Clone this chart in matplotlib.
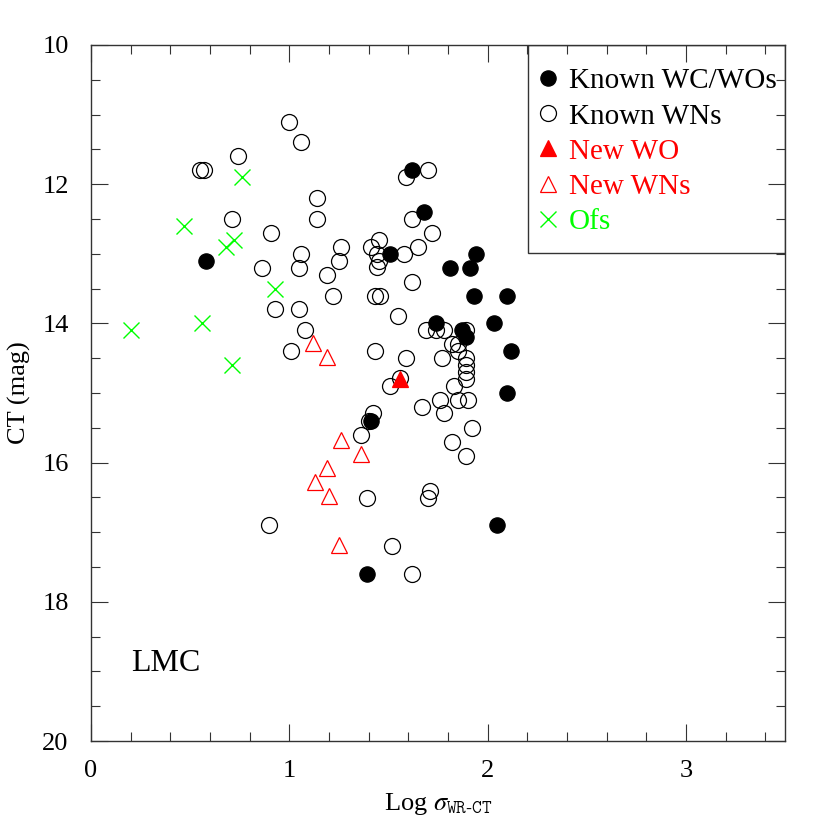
import matplotlib
matplotlib.use("Agg")
import matplotlib.pyplot as plt
import matplotlib.patches as patches
from matplotlib.ticker import MultipleLocator

plt.rcParams['font.family'] = ['Liberation Serif', 'DejaVu Serif']
plt.rcParams['mathtext.fontset'] = 'stix'

# Known WC/WO stars (filled black circles)
wc_x = [0.58, 1.62, 1.68, 1.51, 1.94, 1.81, 1.91, 1.93, 2.10, 1.74,
        2.03, 1.87, 1.89, 2.12, 2.10, 1.41, 2.05, 1.39]
wc_y = [13.10, 11.80, 12.40, 13.00, 13.00, 13.20, 13.20, 13.61, 13.61, 13.99,
        13.99, 14.09, 14.20, 14.40, 15.00, 15.40, 16.90, 17.60]

# Known WN stars (open black circles)
wn_x = [1.00, 1.06, 0.74, 0.55, 0.57, 1.59, 1.70, 1.62, 1.14, 1.14,
        0.71, 1.72, 1.65, 1.58, 0.91, 1.26, 1.25, 1.41, 1.45, 1.44,
        1.45, 1.44, 1.06, 0.86, 1.05, 1.19, 1.62, 1.22, 1.43, 1.46,
        0.93, 1.05, 1.55, 1.08, 1.69, 1.74, 1.78, 1.89, 1.82, 1.85,
        1.85, 1.43, 1.01, 1.59, 1.77, 1.89, 1.89, 1.89, 1.89, 1.56,
        1.51, 1.83, 1.76, 1.85, 1.90, 1.67, 1.78, 1.42, 1.40, 1.36,
        1.92, 1.82, 1.89, 1.71, 1.70, 1.39, 0.90, 1.52, 1.62]
wn_y = [11.11, 11.39, 11.59, 11.80, 11.80, 11.90, 11.80, 12.50, 12.20, 12.50,
        12.50, 12.70, 12.90, 13.00, 12.70, 12.90, 13.10, 12.90, 12.80, 13.00,
        13.10, 13.19, 13.00, 13.20, 13.20, 13.30, 13.41, 13.61, 13.61, 13.61,
        13.79, 13.79, 13.89, 14.09, 14.09, 14.09, 14.09, 14.09, 14.30, 14.30,
        14.40, 14.40, 14.40, 14.50, 14.50, 14.50, 14.60, 14.70, 14.80, 14.78,
        14.90, 14.90, 15.10, 15.10, 15.10, 15.20, 15.29, 15.29, 15.40, 15.60,
        15.50, 15.70, 15.90, 16.41, 16.51, 16.51, 16.90, 17.20, 17.60]

# New WO (filled red triangle)
wo_x = [1.56]
wo_y = [14.80]

# New WNs (open red triangles)
nwn_x = [1.12, 1.19, 1.26, 1.36, 1.19, 1.13, 1.20, 1.25]
nwn_y = [14.28, 14.48, 15.68, 15.88, 16.08, 16.28, 16.48, 17.18]

# Of stars (green crosses)
of_x = [0.76, 0.47, 0.72, 0.68, 0.93, 0.56, 0.20, 0.71]
of_y = [11.90, 12.60, 12.80, 12.90, 13.51, 13.99, 14.09, 14.60]

green = '#00ff00'

fig = plt.figure(figsize=(8.3, 8.3), dpi=100)
ax = fig.add_axes([0.1096, 0.1072, 0.8362, 0.8386])

ax.plot(wn_x, wn_y, 'o', ms=11.5, mfc='none', mec='black', mew=0.9,
        label='Known WNs', zorder=2)
ax.plot(wc_x, wc_y, 'o', ms=11, mfc='black', mec='black', mew=0.9,
        label='Known WC/WOs', zorder=3)
ax.plot(wo_x, wo_y, '^', ms=12, mfc='red', mec='red', mew=0.9,
        label='New WO', zorder=4)
ax.plot(nwn_x, nwn_y, '^', ms=12, mfc='none', mec='red', mew=0.9,
        label='New WNs', zorder=4)
ax.plot(of_x, of_y, 'x', ms=11, mec=green, mew=1.0,
        label='Ofs', zorder=4)

ax.set_xlim(0, 3.5)
ax.set_ylim(20, 10)

ax.xaxis.set_major_locator(MultipleLocator(1))
ax.xaxis.set_minor_locator(MultipleLocator(0.2))
ax.yaxis.set_major_locator(MultipleLocator(2))
ax.yaxis.set_minor_locator(MultipleLocator(0.5))
ax.tick_params(which='both', direction='in', top=True, right=True,
               labelsize=19, width=0.8, color='#333333')
ax.tick_params(which='major', length=12)
ax.tick_params(which='minor', length=6.5)
ax.tick_params(axis='x', pad=14)
ax.tick_params(axis='y', pad=16)
for s in ax.spines.values():
    s.set_linewidth(1.0)
    s.set_color('#333333')

ax.set_xlabel(r'Log $\sigma_{\mathtt{WR}\text{-}\mathtt{CT}}$', fontsize=19, labelpad=6)
ax.set_ylabel('CT (mag)', fontsize=19, labelpad=8)

ax.text(0.2, 19.0, 'LMC', fontsize=23, ha='left', va='baseline')

# legend box (frame drawn separately so the padding matches)
box = patches.Rectangle((0.6297, 0.7011), 0.3703, 0.2989, transform=ax.transAxes,
                        facecolor='none', edgecolor='#333333', lw=1.0, zorder=5)
ax.add_patch(box)

h, l = ax.get_legend_handles_labels()
order = [1, 0, 2, 3, 4]
leg = ax.legend([h[i] for i in order], [l[i] for i in order],
                loc='upper left', bbox_to_anchor=(0.6297, 0.988),
                borderaxespad=0, frameon=False,
                fontsize=21, labelspacing=0.3, handlelength=0.4,
                handletextpad=0.5, borderpad=0.5,
                labelcolor=['black', 'black', 'red', 'red', green])
leg.set_zorder(6)

fig.savefig('out.png', dpi=100)
